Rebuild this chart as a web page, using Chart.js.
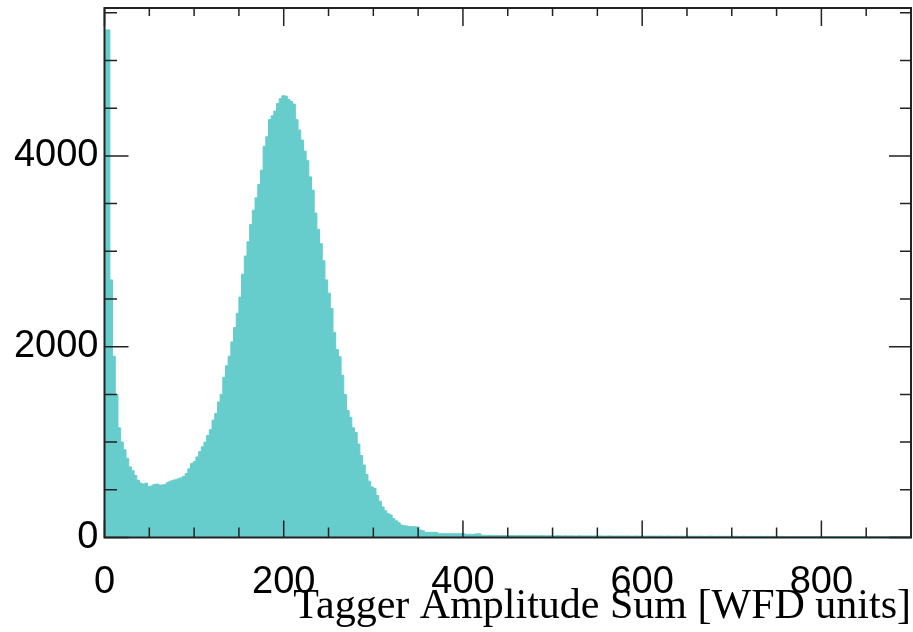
<!DOCTYPE html>
<html>

<head>
  <title>Tagger Amplitude Sum</title>
  <script src="https://cdn.jsdelivr.net/npm/chart.js"></script>
  <style>
    body { margin: 0; background: #fff; }
  </style>
</head>

<body>

  <canvas id="myChart" style="position:fixed;left:0;top:0;width:913px;height:632px;"></canvas>

  <script>
    // histogram: 300 bins of 3 WFD units each, 0..900
    const binWidth = 3;
    const counts = [
      5320, 5320, 2700, 1900, 1500, 1150, 1000, 920, 830, 740, 700, 650, 600, 570, 560, 570, 535, 540, 555, 560,
      550, 550, 555, 575, 590, 600, 605, 615, 625, 640, 670, 720, 775, 795, 845, 900, 950, 1000, 1070, 1130,
      1230, 1300, 1420, 1500, 1680, 1800, 1900, 2050, 2200, 2350, 2520, 2760, 2950, 3100, 3280, 3430, 3560, 3700, 3850, 4100,
      4200, 4380, 4420, 4470, 4550, 4600, 4630, 4627, 4592, 4570, 4543, 4380, 4270, 4166, 4050, 3950, 3780, 3640, 3400, 3230,
      3080, 2900, 2700, 2560, 2400, 2150, 1970, 1895, 1700, 1500, 1330, 1260, 1150, 1100, 980, 860, 760, 660, 590, 530,
      515, 440, 380, 320, 280, 250, 236, 200, 175, 155, 130, 124, 120, 113, 113, 113, 110, 79, 70, 54,
      54, 54, 54, 54, 40, 40, 40, 40, 40, 40, 40, 40, 40, 40, 33, 33, 33, 33, 38, 38,
      24, 23, 22, 23, 21, 22, 21, 20, 22, 21, 20, 21, 20, 19, 21, 20, 19, 20, 19, 20,
      19, 18, 20, 19, 18, 19, 18, 17, 19, 18, 17, 18, 17, 18, 17, 16, 18, 17, 16, 17,
      17, 16, 17, 16, 17, 16, 15, 17, 16, 15, 16, 15, 16, 15, 16, 15, 14, 16, 15, 14,
      15, 14, 15, 14, 15, 14, 15, 14, 13, 15, 14, 13, 14, 13, 14, 13, 14, 13, 14, 13,
      13, 14, 13, 12, 13, 14, 13, 12, 13, 12, 13, 12, 13, 12, 13, 12, 11, 13, 12, 11,
      12, 11, 12, 11, 12, 11, 12, 11, 12, 11, 10, 12, 11, 10, 11, 10, 11, 10, 11, 10,
      11, 10, 11, 10, 10, 11, 10, 9, 10, 11, 10, 9, 10, 9, 10, 9, 10, 9, 10, 9,
      9, 10, 9, 8, 9, 10, 9, 8, 9, 8, 9, 8, 9, 8, 9, 8, 8, 9, 8, 8
    ];

    const xMin = 0, xMax = 900;
    const yMin = 0, yMax = 5550;
    const xTicks = [0, 200, 400, 600, 800];
    const xMinorTicks = [50, 100, 150, 250, 300, 350, 450, 500, 550, 650, 700, 750, 850];
    const yTicks = [0, 2000, 4000];
    const yMinorTicks = [500, 1000, 1500, 2500, 3000, 3500, 4500, 5000, 5500];
    const xTitle = 'Tagger Amplitude Sum [WFD units]';

    // bin lower edges + closing point at the upper edge
    const points = counts.map((c, i) => ({ x: i * binWidth, y: c }));
    points.push({ x: counts.length * binWidth, y: counts[counts.length - 1] });

    // ROOT-like frame with inward ticks on all four sides
    const rootFrame = {
      id: 'rootFrame',
      afterDatasetsDraw(chart) {
        const { ctx, chartArea: a, scales: { x, y } } = chart;
        ctx.save();
        ctx.strokeStyle = '#222';
        ctx.lineWidth = 1.5;
        ctx.beginPath();
        const seg = (x1, y1, x2, y2) => { ctx.moveTo(x1, y1); ctx.lineTo(x2, y2); };
        xMinorTicks.forEach(v => {
          const px = x.getPixelForValue(v);
          seg(px, a.bottom, px, a.bottom - 10);
          seg(px, a.top, px, a.top + 8);
        });
        xTicks.forEach(v => {
          const px = x.getPixelForValue(v);
          seg(px, a.bottom, px, a.bottom - 17);
          seg(px, a.top, px, a.top + 18);
        });
        yMinorTicks.forEach(v => {
          const py = y.getPixelForValue(v);
          seg(a.left, py, a.left + 12.5, py);
          seg(a.right, py, a.right - 11, py);
        });
        yTicks.forEach(v => {
          const py = y.getPixelForValue(v);
          seg(a.left, py, a.left + 24, py);
          seg(a.right, py, a.right - 22, py);
        });
        ctx.stroke();
        ctx.lineWidth = 2;
        ctx.strokeRect(a.left, a.top, a.width, a.height);
        ctx.restore();
      }
    };

    const noPad = s => { s.paddingTop = 0; s.paddingBottom = 0; s.paddingLeft = 0; s.paddingRight = 0; };

    const config = {
      type: 'line',
      data: {
        datasets: [
          {
            data: points,
            stepped: 'before',
            fill: 'origin',
            backgroundColor: '#66cccc',
            borderColor: '#66cccc',
            borderWidth: 1,
            pointRadius: 0,
          },
        ],
      },
      options: {
        animation: false,
        responsive: false,
        layout: { padding: { left: 0, right: 2, top: 8, bottom: 0 } },
        scales: {
          x: {
            type: 'linear',
            min: xMin,
            max: xMax,
            afterBuildTicks: s => { s.ticks = xTicks.map(v => ({ value: v })); },
            afterFit: s => { s.height = 94.5; noPad(s); },
            grid: { display: false, drawTicks: false },
            border: { display: false },
            ticks: {
              padding: 22,
              color: '#000',
              maxRotation: 0,
              callback: v => String(v),
              font: { family: 'Liberation Sans', size: 38 },
            },
            title: {
              display: true,
              text: xTitle,
              align: 'end',
              color: '#000',
              font: { family: 'Liberation Serif', size: 42 },
              padding: { top: 0, bottom: 0 },
            },
          },
          y: {
            type: 'linear',
            min: yMin,
            max: yMax,
            afterBuildTicks: s => { s.ticks = yTicks.map(v => ({ value: v })); },
            afterFit: s => { s.width = 104.5; noPad(s); },
            grid: { display: false, drawTicks: false },
            border: { display: false },
            ticks: {
              padding: 6,
              color: '#000',
              callback: v => String(v),
              font: { family: 'Liberation Sans', size: 38 },
            },
          },
        },
        plugins: {
          legend: { display: false },
          tooltip: { enabled: false },
        },
      },
      plugins: [rootFrame],
    };

    const canvas = document.getElementById('myChart');
    canvas.width = 913;
    canvas.height = 632;
    var myChart = new Chart(canvas, config);
  </script>
</body>

</html>
